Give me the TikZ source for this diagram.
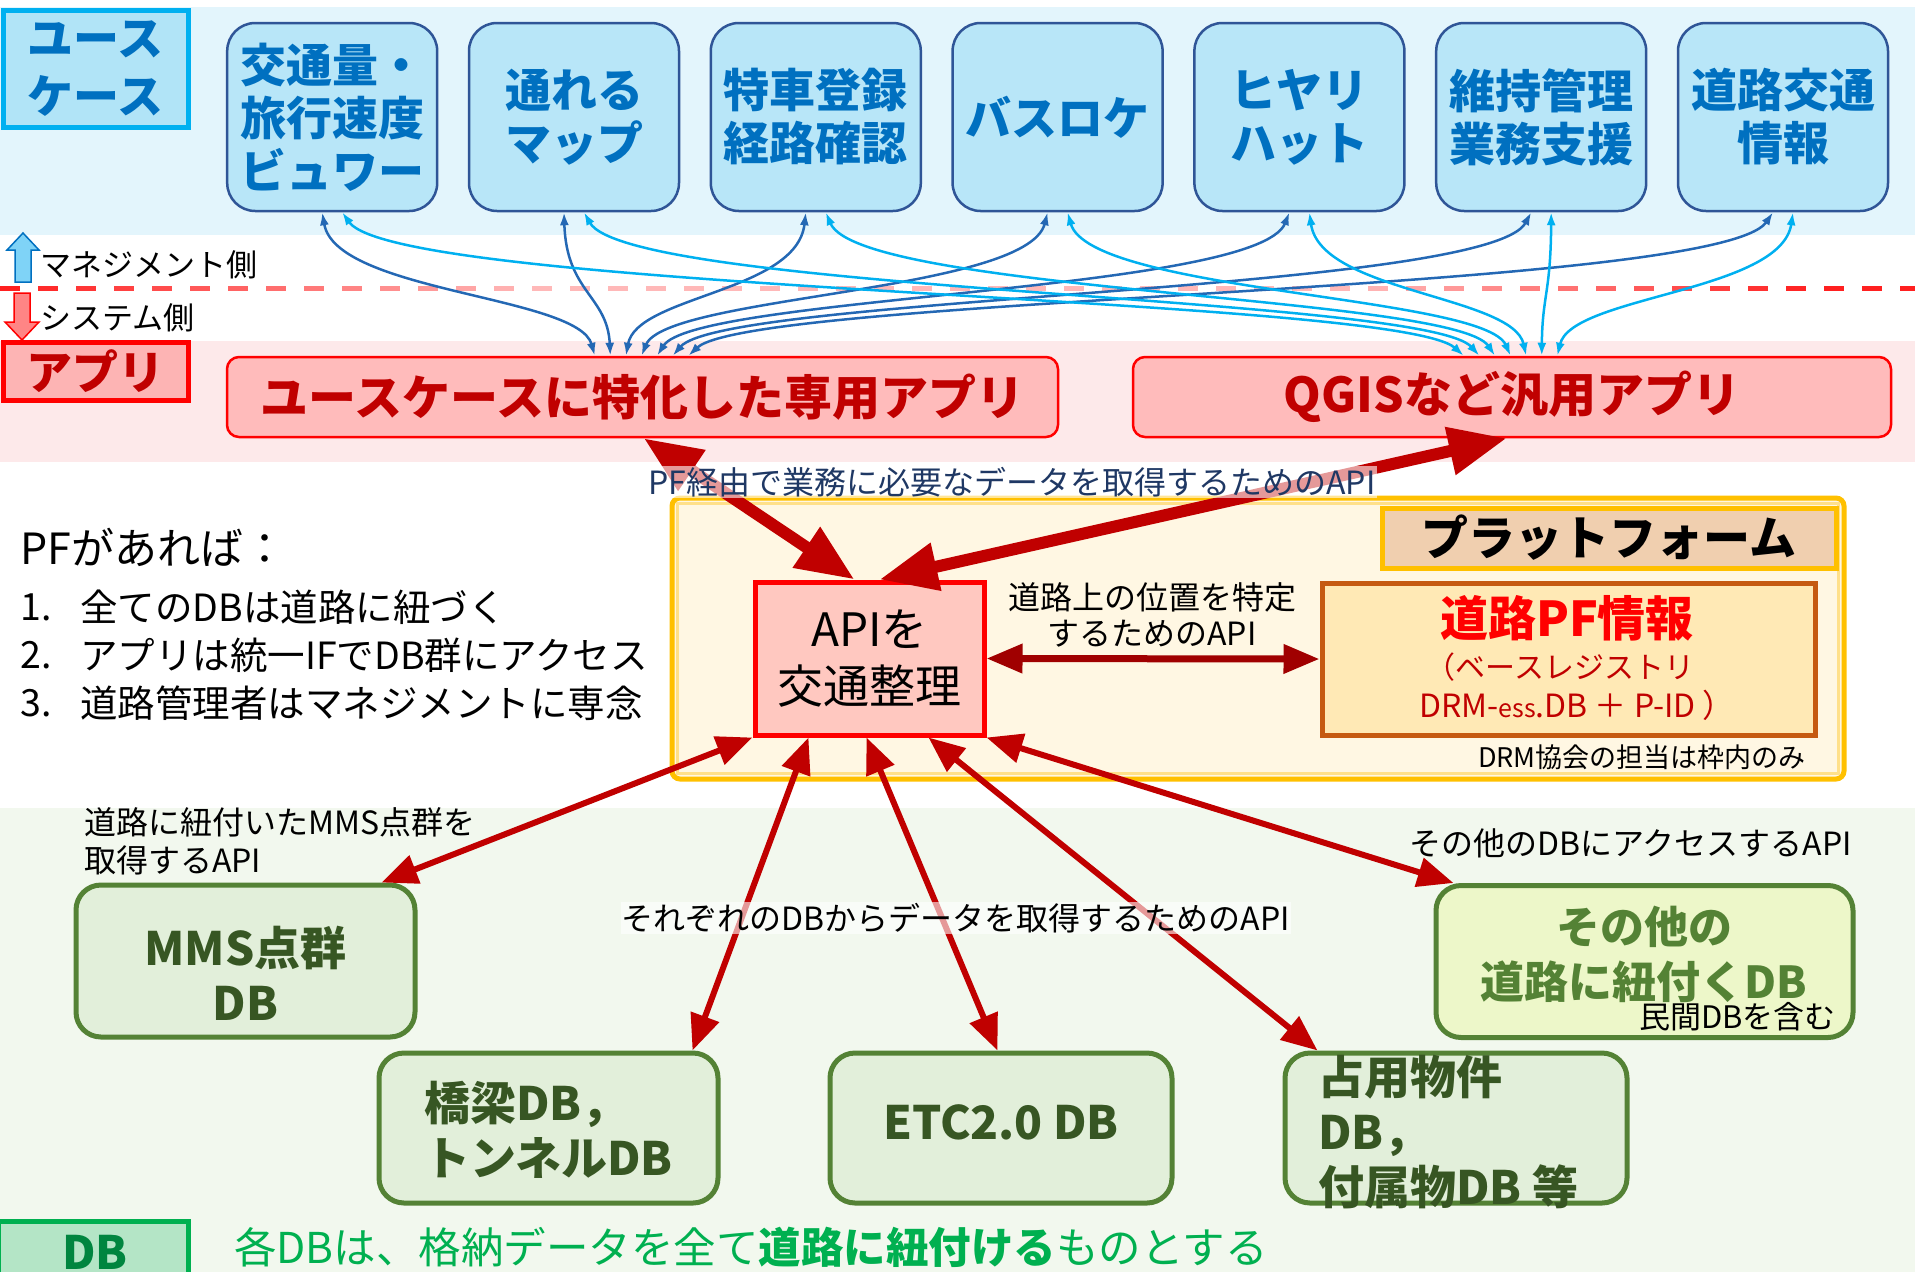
\documentclass[tikz,border=0pt]{standalone}
\usepackage{fontspec}
\setmainfont{Noto Sans CJK JP}
\usetikzlibrary{arrows.meta,calc}
\definecolor{bandblue}{HTML}{E3F5FC}
\definecolor{bandpink}{HTML}{FDE9EA}
\definecolor{bandgreen}{HTML}{F2F8EE}
\definecolor{ucfill}{HTML}{B8E6F8}
\definecolor{ucborder}{HTML}{2F5597}
\definecolor{uctext}{HTML}{0070C0}
\definecolor{cyanb}{HTML}{00B0F0}
\definecolor{cyanf}{HTML}{B1E4F7}
\definecolor{upfill}{HTML}{7FD3F7}
\definecolor{appfill}{HTML}{FFBBBB}
\definecolor{aprifill}{HTML}{FDB4B4}
\definecolor{apptext}{HTML}{C00000}
\definecolor{downfill}{HTML}{FF8585}
\definecolor{darkblue}{HTML}{2468B4}
\definecolor{bigred}{HTML}{C00000}
\definecolor{dblred}{HTML}{A00000}
\definecolor{dashred}{HTML}{FF2020}
\definecolor{dashpale}{HTML}{FFB8B8}
\definecolor{platborder}{HTML}{FFC000}
\definecolor{platinner}{HTML}{FFE08A}
\definecolor{platfill}{HTML}{FFF7E3}
\definecolor{hdrfill}{HTML}{F0CFAF}
\definecolor{pffill}{HTML}{FFE9B5}
\definecolor{pfborder}{HTML}{C55A11}
\definecolor{pfred}{HTML}{FF0000}
\definecolor{apifill}{HTML}{FFC8C0}
\definecolor{navy}{HTML}{1F3864}
\definecolor{dbfill}{HTML}{E2EFDA}
\definecolor{dbborder}{HTML}{548235}
\definecolor{dbtext}{HTML}{375623}
\definecolor{othfill}{HTML}{EDF7C9}
\definecolor{dbgreen}{HTML}{00B050}
\definecolor{dbmint}{HTML}{B4E5C6}
\definecolor{dbdark}{HTML}{00853F}
\newcommand\fsz[2]{\fontsize{#1}{#2}\selectfont}
\begin{document}
\begin{tikzpicture}[x=1pt,y=-1pt,
  ucbox/.style={draw=ucborder, fill=ucfill, line width=2.5pt, rounded corners=28pt,
    minimum width=210pt, minimum height=188pt, inner sep=0pt, align=center,
    text=uctext, font=\bfseries\fsz{46}{53}},
  appbox/.style={draw=red, fill=appfill, line width=2.5pt, rounded corners=12pt,
    minimum height=80pt, inner sep=0pt, text=apptext, font=\bfseries\fsz{48}{52}},
  dbbox/.style={draw=dbborder, fill=dbfill, line width=5pt, rounded corners=25pt,
    inner sep=0pt},
  dbtxt/.style={text=dbtext, font=\bfseries\fsz{46}{55}, align=left, inner sep=0pt},
  lbl/.style={font=\fsz{32}{38}, inner sep=1pt},
  bluearr/.style={line width=2.5pt, >={Latex[length=13pt,width=9pt]}, <->},
  bigarr/.style={draw=bigred, line width=12pt, >={Triangle[length=58pt,width=46pt]}, <->},
  dbarr/.style={draw=bigred, line width=6pt, >={Triangle[length=36pt,width=29pt]}, <->},
  dblarr/.style={draw=dblred, line width=7pt, >={Triangle[length=36pt,width=28pt]}, <->},
  ghostbg/.style={fill=white, fill opacity=0.6, text opacity=1}
]
\useasboundingbox (0,0) rectangle (1915,1272);
% bands
\fill[bandblue] (0,7) rectangle (1915,235);
\fill[bandpink] (0,341) rectangle (1915,462);
\fill[bandgreen] (0,808) rectangle (1915,1272);
% gradient dashed line
\foreach \k in {0,...,50}{
  \pgfmathsetmacro\xa{\k*38}
  \pgfmathsetmacro\pp{100*min(1,max(0,1-\xa/520,(\xa-1350)/450))}
  \draw[line width=5pt, color=dashred!\pp!dashpale] (\xa,288) -- ++(20,0);
}
% use-case label
\node[draw=cyanb, fill=cyanf, line width=5pt, minimum width=185pt, minimum height=117pt,
  inner sep=0pt, align=center, text=uctext, font=\bfseries\fsz{46}{58}] (uclabel) at (95.5,68.5) {ユース\\ケース};
% use case boxes
\node[ucbox] (uc1) at (332.2,117) {交通量・\\旅行速度\\ビュワー};
\node[ucbox] (uc2) at (574.0,117) {通れる\\マップ};
\node[ucbox] (uc3) at (815.8,117) {特車登録\\経路確認};
\node[ucbox] (uc4) at (1057.6,117) {バスロケ};
\node[ucbox] (uc5) at (1299.4,117) {ヒヤリ\\ハット};
\node[ucbox] (uc6) at (1541.2,117) {維持管理\\業務支援};
\node[ucbox] (uc7) at (1783.0,117) {道路交通\\情報};
% side arrows
\draw[fill=upfill, draw=uctext, line width=1.5pt] (15,282) -- (15,250) -- (7,250) -- (23,233) -- (39,250) -- (31,250) -- (31,282) -- cycle;
\draw[fill=downfill, draw=red, line width=1.5pt] (14,293) -- (30,293) -- (30,322) -- (39,322) -- (22,340) -- (5,322) -- (14,322) -- cycle;
\node[anchor=west, font=\fsz{31}{34}, inner sep=0pt] (mgmt) at (40,265) {マネジメント側};
\node[anchor=west, font=\fsz{31}{34}, inner sep=0pt] (sys) at (40,318) {システム側};
% app label and boxes
\node[draw=red, fill=aprifill, line width=5pt, minimum width=185pt, minimum height=58pt,
  inner sep=0pt, text=apptext, font=\bfseries\fsz{46}{50}] (aplabel) at (95.5,371.5) {アプリ};
\node[appbox, minimum width=831pt] (app1) at (642.5,397) {ユースケースに特化した専用アプリ};
\node[appbox, minimum width=758pt] (app2) at (1512,397) {QGISなど汎用アプリ};
% blue connectors
\foreach \i in {1,...,7}{
  \pgfmathsetmacro\sx{332.2+241.8*(\i-1)-10}
  \pgfmathsetmacro\ex{596+15.6*(\i-1)}
  \pgfmathsetmacro\ra{-0.05*(\sx-\ex)}
  \pgfmathsetmacro\rb{0.06*(\sx-\ex)}
  \pgfmathsetmacro\dx{\ex-227}
  \draw[bluearr, draw=darkblue, color=darkblue] ([xshift=-10pt]uc\i.south) .. controls +(\ra,80) and +(\rb,-60) .. ([xshift=\dx pt]app1.north west);
}
\foreach \i in {1,...,7}{
  \pgfmathsetmacro\sx{332.2+241.8*(\i-1)+10}
  \pgfmathsetmacro\ex{1465+15.6*(\i-1)}
  \pgfmathsetmacro\ra{-0.05*(\sx-\ex)}
  \pgfmathsetmacro\rb{0.06*(\sx-\ex)}
  \pgfmathsetmacro\dx{\ex-1133}
  \draw[bluearr, draw=cyanb, color=cyanb] ([xshift=10pt]uc\i.south) .. controls +(\ra,80) and +(\rb,-60) .. ([xshift=\dx pt]app2.north west);
}
% platform
\node[draw=platborder, line width=5pt, fill=platfill, rounded corners=8pt, minimum width=1172pt,
  minimum height=281pt, inner sep=0pt] (plat) at (1258,638.5) {};
\draw[platinner, line width=2.5pt] ([shift={(8,8)}]plat.north west) rectangle ([shift={(-8,-8)}]plat.south east);
\node[draw=platborder, fill=hdrfill, line width=5pt, minimum width=454pt, minimum height=60pt,
  inner sep=0pt, font=\bfseries\fsz{47}{50}] (hdr) at (1609,538) {プラットフォーム};
\node[draw=pfborder, fill=pffill, line width=5pt, minimum width=493pt, minimum height=152pt, inner sep=0pt] (pfbox) at (1568.5,659) {};
\node[font=\bfseries\fsz{48}{52}, text=pfred, inner sep=0pt] (pft1) at (1567,618) {道路PF情報};
\node[font=\fsz{30}{34}, text=apptext, inner sep=0pt] (pft2) at (1560,667) {（ベースレジストリ};
\node[font=\fsz{32}{34}, text=apptext, inner sep=0pt] (pft3) at (1577,705) {DRM-{\fsz{25}{28}ess}.DB ＋ P-ID ）};
\node[font=\fsz{27}{30}, inner sep=0pt] (drmnote) at (1642,757) {DRM協会の担当は枠内のみ};
\node[draw=red, fill=apifill, line width=5pt, minimum width=229pt, minimum height=153pt,
  inner sep=0pt, align=center, font=\fsz{46}{57}] (api) at (869.5,658.5) {APIを\\交通整理};
\draw[dblarr] (api.east) -- (pfbox.west);
\node[lbl, align=center, font=\fsz{32}{36}] (poslbl) at (1152,615) {道路上の位置を特定\\するためのAPI};
% left text
\node[anchor=west, font=\fsz{43}{46}, inner sep=0pt] (pfif) at (20,547) {PFがあれば：};
\node[anchor=west, font=\fsz{37.5}{40}, inner sep=0pt] (n1) at (20,607) {1.};
\node[anchor=west, font=\fsz{37.5}{40}, inner sep=0pt] (t1) at (80,607) {全てのDBは道路に紐づく};
\node[anchor=west, font=\fsz{37.5}{40}, inner sep=0pt] (n2) at (20,655) {2.};
\node[anchor=west, font=\fsz{37.5}{40}, inner sep=0pt] (t2) at (80,655) {アプリは統一IFでDB群にアクセス};
\node[anchor=west, font=\fsz{37.5}{40}, inner sep=0pt] (n3) at (20,703) {3.};
\node[anchor=west, font=\fsz{37.5}{40}, inner sep=0pt] (t3) at (80,703) {道路管理者はマネジメントに専念};
% DB boxes
\node[dbbox, minimum width=339pt, minimum height=152pt] (mms) at (245.5,961) {};
\node[dbtxt, align=center] (mmst) at (245.5,973) {MMS点群\\DB};
\node[dbbox, minimum width=339pt, minimum height=150pt] (kyo) at (548.5,1128) {};
\node[dbtxt, anchor=west] (kyot) at (424,1130) {橋梁DB，\\トンネルDB};
\node[dbbox, minimum width=342pt, minimum height=150pt] (etc) at (1001,1128) {};
\node[dbtxt] (etct) at (1001,1122) {ETC2.0 DB};
\node[dbbox, minimum width=342pt, minimum height=150pt] (sen) at (1456,1128) {};
\node[dbtxt, anchor=west] (sent) at (1318,1132) {占用物件\\DB，\\付属物DB 等};
\node[dbbox, fill=othfill, minimum width=417pt, minimum height=152pt] (oth) at (1644.5,961.5) {};
\node[dbtxt, text=dbborder, align=center, font=\bfseries\fsz{44}{55}] (otht) at (1644,954.5) {その他の\\道路に紐付くDB};
\node[anchor=east, font=\fsz{31}{34}, inner sep=0pt] (mink) at (1836,1017) {民間DBを含む};
% big red arrows
\draw[bigarr] ([xshift=418pt]app1.south west) -- ([xshift=102pt]api.north west);
\draw[bigarr] ([xshift=375pt]app2.south west) -- ([xshift=127pt]api.north west);
% db arrows
\draw[dbarr] (api.south west) -- ([xshift=-36pt]mms.north east);
\draw[dbarr] ([xshift=56pt]api.south west) -- ([xshift=-28pt]kyo.north east);
\draw[dbarr] ([xshift=114pt]api.south west) -- ([xshift=170pt]etc.north west);
\draw[dbarr] ([xshift=176pt]api.south west) -- ([xshift=35pt]sen.north west);
\draw[dbarr] (api.south east) -- ([xshift=20pt]oth.north west);
% labels over arrows
\node[lbl, ghostbg, text=navy] (pflbl) at (1012,482) {PF経由で業務に必要なデータを取得するためのAPI};
\node[lbl, ghostbg] (eachlbl) at (956,918) {それぞれのDBからデータを取得するためのAPI};
\node[lbl, align=left, anchor=west] (mmslbl) at (83,841) {道路に紐付いたMMS点群を\\取得するAPI};
\node[lbl, anchor=east] (othlbl) at (1853,843) {その他のDBにアクセスするAPI};
% bottom
\node[draw=dbgreen, fill=dbmint, line width=5pt, minimum width=190pt, minimum height=70pt, inner sep=0pt] (dblabel) at (93,1256) {};
\node[font=\bfseries\fsz{46}{50}, text=dbdark, anchor=base, inner sep=0pt] (dblabelt) at (95,1269) {DB};
\node[anchor=west, text=dbgreen, font=\fsz{42.5}{46}, inner sep=0pt] (rule) at (234,1247) {各DBは、格納データを全て\textbf{道路に紐付ける}ものとする};
\end{tikzpicture}
\end{document}
